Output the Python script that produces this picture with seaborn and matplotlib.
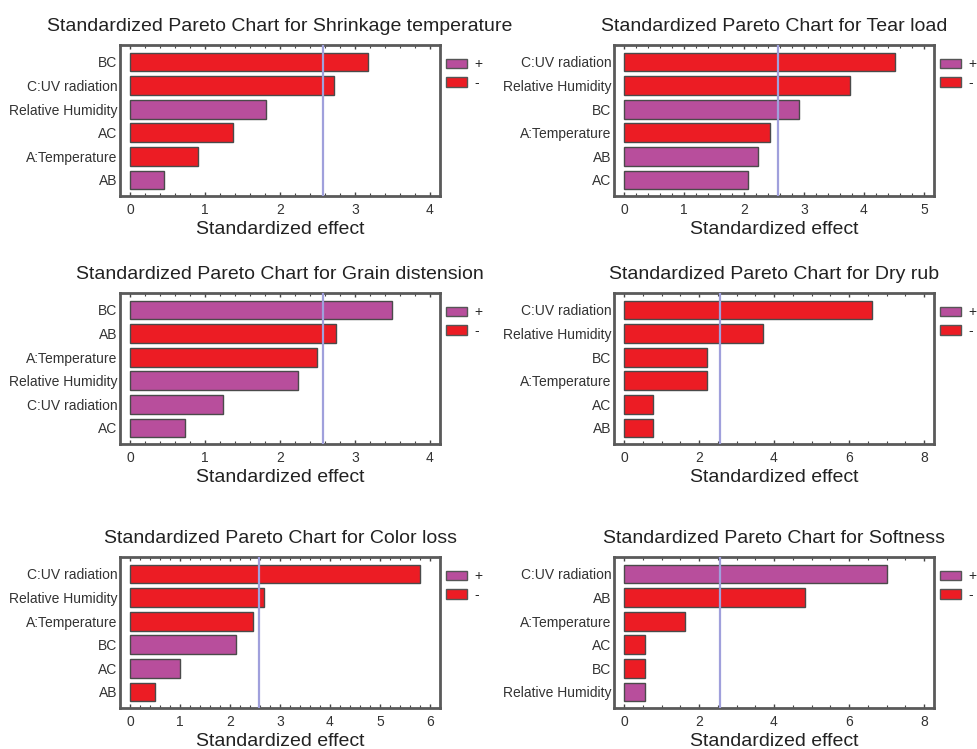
import matplotlib
matplotlib.use("Agg")
import matplotlib.pyplot as plt
from matplotlib.patches import Patch
from matplotlib.ticker import MultipleLocator, AutoMinorLocator
import pandas as pd
import seaborn as sns

sns.set_theme(style="white")
plt.rcParams["font.family"] = ["Liberation Sans", "DejaVu Sans"]

# Standardized effects per response (absolute values) and sign of each effect
titles = [
    "Standardized Pareto Chart for Shrinkage temperature",
    "Standardized Pareto Chart for Tear load",
    "Standardized Pareto Chart for Grain distension",
    "Standardized Pareto Chart for Dry rub",
    "Standardized Pareto Chart for Color loss",
    "Standardized Pareto Chart for Softness",
]

shrink_factors = ["BC", "C:UV radiation", "Relative Humidity", "AC", "A:Temperature", "AB"]
shrink_effects = [3.17, 2.72, 1.81, 1.37, 0.91, 0.45]
shrink_signs = ["-", "-", "+", "-", "-", "+"]

tear_factors = ["C:UV radiation", "Relative Humidity", "BC", "A:Temperature", "AB", "AC"]
tear_effects = [4.52, 3.77, 2.92, 2.43, 2.23, 2.07]
tear_signs = ["-", "-", "+", "-", "+", "+"]

grain_factors = ["BC", "AB", "A:Temperature", "Relative Humidity", "C:UV radiation", "AC"]
grain_effects = [3.49, 2.75, 2.49, 2.24, 1.24, 0.73]
grain_signs = ["+", "-", "-", "+", "+", "+"]

dryrub_factors = ["C:UV radiation", "Relative Humidity", "BC", "A:Temperature", "AC", "AB"]
dryrub_effects = [6.6, 3.7, 2.2, 2.2, 0.77, 0.77]
dryrub_signs = ["-", "-", "-", "-", "-", "-"]

color_factors = ["C:UV radiation", "Relative Humidity", "A:Temperature", "BC", "AC", "AB"]
color_effects = [5.79, 2.67, 2.45, 2.12, 0.99, 0.50]
color_signs = ["-", "-", "-", "+", "+", "-"]

soft_factors = ["C:UV radiation", "AB", "A:Temperature", "AC", "BC", "Relative Humidity"]
soft_effects = [7.02, 4.83, 1.62, 0.56, 0.56, 0.56]
soft_signs = ["+", "-", "-", "-", "-", "+"]

x_max = [4, 5, 4, 8, 6, 8]
x_major = [1, 1, 1, 2, 1, 2]
critical_value = 2.57

panels = [
    (shrink_factors, shrink_effects, shrink_signs),
    (tear_factors, tear_effects, tear_signs),
    (grain_factors, grain_effects, grain_signs),
    (dryrub_factors, dryrub_effects, dryrub_signs),
    (color_factors, color_effects, color_signs),
    (soft_factors, soft_effects, soft_signs),
]

palette = {"+": "#b84e9c", "-": "#ec1c24"}
frame_color = "#5a5a5a"

W, H = 977, 749
fig = plt.figure(figsize=(W / 100, H / 100), dpi=100)

# axes boxes in pixels: (left, top, width, height)
col_left = [120, 614]
row_top = [45, 293, 557]
ax_w, ax_h = 320, 151

for i, ((factors, effects, signs), title) in enumerate(zip(panels, titles)):
    r, c = divmod(i, 2)
    left, top = col_left[c], row_top[r]
    ax = fig.add_axes([left / W, 1 - (top + ax_h) / H, ax_w / W, ax_h / H])

    df = pd.DataFrame({"factor": factors, "effect": effects, "sign": signs})
    sns.barplot(data=df, x="effect", y="factor", hue="sign", order=factors,
                hue_order=["+", "-"], palette=palette, saturation=1,
                dodge=False, width=0.8, edgecolor="#4a4a4a", linewidth=1.0,
                legend=False, ax=ax)

    ax.axvline(critical_value, color="#a0a0dc", lw=1.6, zorder=3)

    xm = x_max[i]
    ax.set_xlim(-xm / 30, xm * 31 / 30)
    ax.set_ylim(len(factors) - 0.32, -0.72)
    ax.xaxis.set_major_locator(MultipleLocator(x_major[i]))
    ax.xaxis.set_minor_locator(AutoMinorLocator())
    ax.tick_params(axis="x", which="both", direction="in", top=True, bottom=True,
                   color="#444444", labelsize=10, labelcolor="#333333", pad=5)
    ax.tick_params(axis="x", which="major", length=3, width=1)
    ax.tick_params(axis="x", which="minor", length=2, width=0.8)
    ax.tick_params(axis="y", which="both", length=0, labelsize=10,
                   labelcolor="#333333", pad=2)

    for sp in ax.spines.values():
        sp.set_visible(True)
        sp.set_color(frame_color)
        sp.set_linewidth(2)

    ax.set_ylabel("")
    ax.set_xlabel("Standardized effect", fontsize=14, color="#222222", labelpad=3)
    ax.set_title(title, fontsize=14, color="#222222", pad=10)

    handles = [Patch(facecolor=palette["+"], edgecolor="#555555", lw=1, label="+"),
               Patch(facecolor=palette["-"], edgecolor="#555555", lw=1, label="-")]
    ax.legend(handles=handles, loc="upper left", bbox_to_anchor=(1.02, 0.92),
              frameon=False, fontsize=10, handlelength=1.45, handleheight=0.65,
              handletextpad=0.6, labelspacing=0.35, borderpad=0, borderaxespad=0)

fig.savefig("out.png", dpi=100, facecolor="white")
